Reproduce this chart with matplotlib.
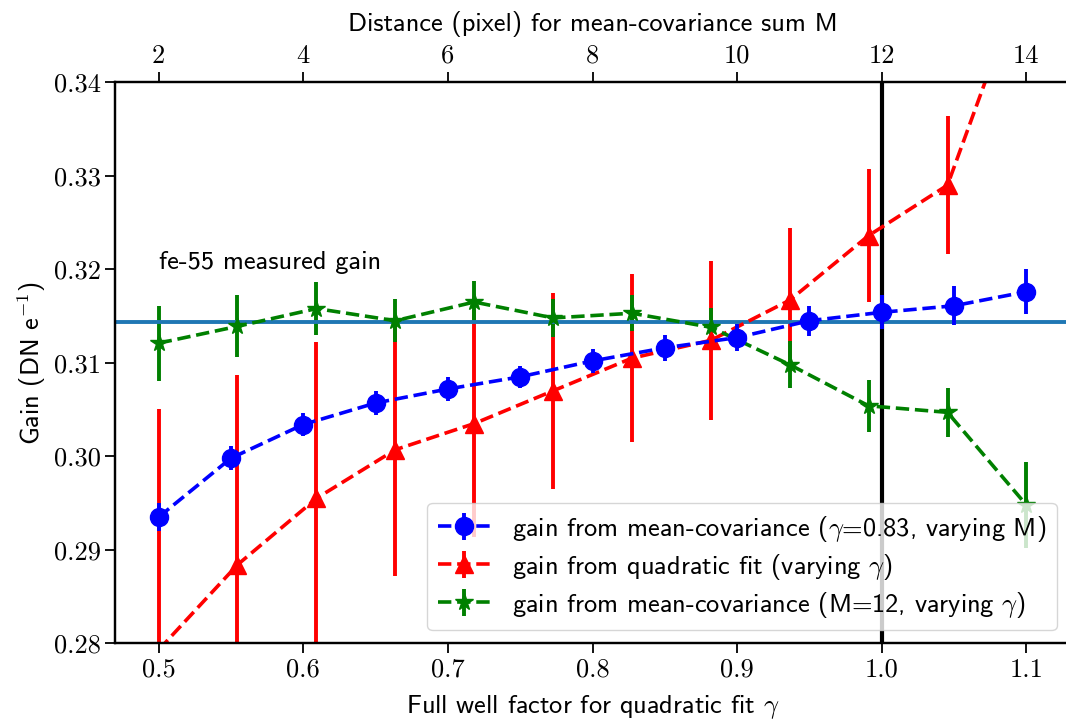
import numpy as np
import matplotlib
matplotlib.use("Agg")
import matplotlib.pyplot as plt

plt.rcParams['font.family'] = ['cmss10', 'DejaVu Sans']
plt.rcParams['mathtext.fontset'] = 'cm'
plt.rcParams['axes.unicode_minus'] = False
plt.rcParams['axes.formatter.use_mathtext'] = False

# ---- data ----
M_values = [2, 3, 4, 5, 6, 7, 8, 9, 10, 11, 12, 13, 14]
blue_gain = [0.2935, 0.2998, 0.3034, 0.3057, 0.3072, 0.3085, 0.3102, 0.3116,
             0.3127, 0.3145, 0.3154, 0.3161, 0.3176]
blue_err = [0.0015, 0.0013, 0.0012, 0.0013, 0.0013, 0.0012, 0.0013, 0.0014,
            0.0014, 0.0016, 0.0018, 0.0021, 0.0024]

gamma_values = [0.5, 0.5545, 0.6091, 0.6636, 0.7182, 0.7727, 0.8273, 0.8818,
                0.9364, 0.9909, 1.0455, 1.1]
red_gain = [0.2793, 0.2884, 0.2955, 0.3007, 0.3035, 0.3070, 0.3105, 0.3124,
            0.3167, 0.3236, 0.3290, 0.3521]
red_err = [0.0258, 0.0203, 0.0167, 0.0135, 0.0121, 0.0105, 0.0090, 0.0085,
           0.0077, 0.0071, 0.0074, 0.0080]
green_gain = [0.3121, 0.3139, 0.3158, 0.3145, 0.3165, 0.3148, 0.3153, 0.3138,
              0.3098, 0.3054, 0.3047, 0.2948]
green_err = [0.0040, 0.0033, 0.0028, 0.0023, 0.0022, 0.0020, 0.0019, 0.0021,
             0.0025, 0.0028, 0.0026, 0.0046]

fe55_gain = 0.3144
gamma_chosen = 1.0

bottom_ticks = [0.5, 0.6, 0.7, 0.8, 0.9, 1.0, 1.1]
top_ticks = [2, 4, 6, 8, 10, 12, 14]
y_ticks = [0.28, 0.29, 0.30, 0.31, 0.32, 0.33, 0.34]

label_blue = r'gain from mean-covariance ($\gamma$=0.83, varying M)'
label_red = r'gain from quadratic fit (varying $\gamma$)'
label_green = r'gain from mean-covariance (M=12, varying $\gamma$)'

# ---- figure ----
W, H = 1066, 719
fig = plt.figure(figsize=(W / 100, H / 100), dpi=100)
left, right, top, bottom = 115.3, 1069.7, 82.3, 643.3
ax = fig.add_axes([left / W, (H - bottom) / H, (right - left) / W, (bottom - top) / H])

FS = 19
lw = 2.6
elw = 2.8

hr = ax.errorbar(gamma_values, red_gain, yerr=red_err, color='red', ls='--', lw=lw,
                 marker='^', ms=13, elinewidth=elw, label=label_red)
hg = ax.errorbar(gamma_values, green_gain, yerr=green_err, color='green', ls='--', lw=lw,
                 marker='*', ms=13, elinewidth=elw, label=label_green)
ax.axhline(fe55_gain, color='#1f77b4', lw=2.8)
ax.axvline(gamma_chosen, color='black', lw=3)
ax.text(0.5, 0.32, 'fe-55 measured gain', fontsize=FS, va='baseline', ha='left')

ax.set_xlim(0.47, 1.13)
ax.set_ylim(0.28, 0.34)
ax.set_xticks(bottom_ticks)
ax.set_xticklabels([f'{t:.1f}' for t in bottom_ticks])
ax.set_yticks(y_ticks)
ax.set_yticklabels([f'{t:.2f}' for t in y_ticks])
ax.set_xlabel(r'Full well factor for quadratic fit $\gamma$', fontsize=FS, labelpad=8)
ax.set_ylabel(r'Gain (DN e$^{-1}$)', fontsize=FS)

ax2 = ax.twiny()
hb = ax2.errorbar(M_values, blue_gain, yerr=blue_err, color='blue', ls='--', lw=lw,
                  marker='o', ms=13, elinewidth=elw, label=label_blue)
ax2.set_xlim(1.4, 14.6)
ax2.set_xticks(top_ticks)
ax2.set_xticklabels([str(t) for t in top_ticks])
ax2.set_xlabel('Distance (pixel) for mean-covariance sum M', fontsize=FS, labelpad=9)

for a in (ax, ax2):
    a.tick_params(labelsize=FS, labelfontfamily='cmr10', length=7, width=1.3)
    for s in a.spines.values():
        s.set_linewidth(1.6)

ax2.legend([hb, hr, hg], [label_blue, label_red, label_green], loc='lower right',
           fontsize=FS, handlelength=2.0, labelspacing=0.3)

fig.savefig('out.png', dpi=100)
